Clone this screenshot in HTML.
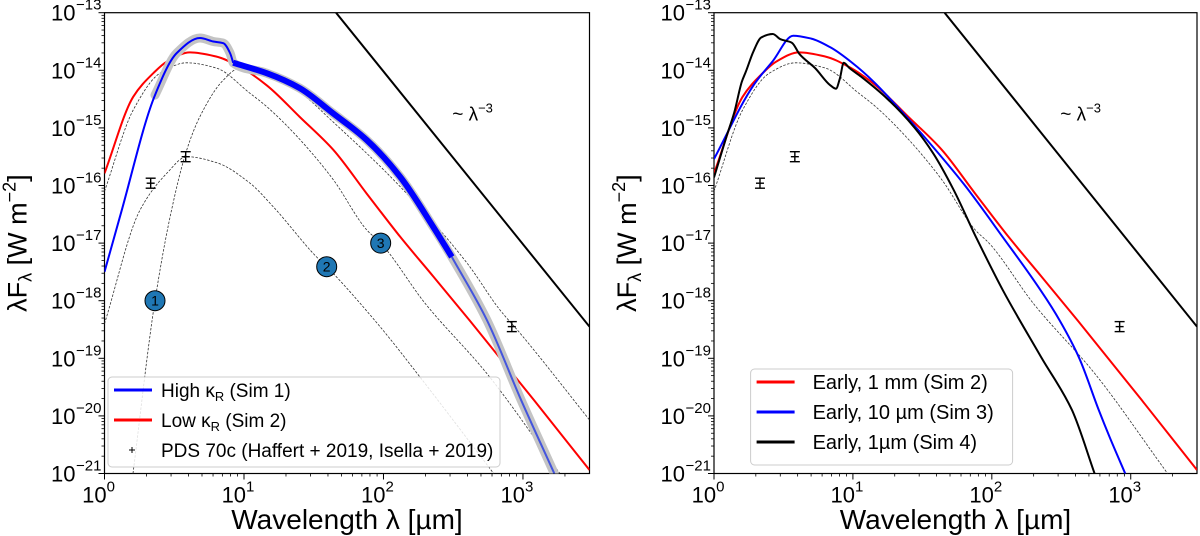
<!DOCTYPE html>
<html><head><meta charset="utf-8"><style>
html,body{margin:0;padding:0;background:#fff;}
svg{display:block;font-family:"Liberation Sans","DejaVu Sans",sans-serif;}
</style></head><body>
<svg id="chart" width="1200" height="536" viewBox="0 0 1200 536" xmlns="http://www.w3.org/2000/svg"></svg>
<script>
// ---- data (log10 wavelength [um], log10 flux [W m^-2]) ----
const redLogLam  = [0,0.206,0.35,0.446,0.613,0.80,0.97,1.163,1.40,1.64,1.88,2.12,2.357,2.62,3.08,3.477];
const redLogF    = [-15.79,-14.46,-14.05,-13.85,-13.69,-13.76,-13.94,-14.26,-14.81,-15.38,-16.14,-16.89,-17.58,-18.35,-19.73,-20.94];
const sim1LogLam = [0,0.11,0.362,0.518,0.685,0.78,0.852,0.90,0.923,1.163,1.40,1.64,1.88,2.12,2.357,2.49,2.74,2.986,3.225];
const sim1LogF   = [-17.5,-16.55,-14.43,-13.70,-13.44,-13.50,-13.53,-13.70,-13.87,-14.05,-14.31,-14.75,-15.21,-15.85,-16.72,-17.24,-18.33,-19.72,-21];
const sim3LogLam = [0,0.284,0.423,0.57,0.70,0.837,1.0,1.15,1.3,1.53,1.80,2.08,2.36,2.49,2.63,2.77,2.85,2.96];
const sim3LogF   = [-15.54,-14.26,-13.84,-13.40,-13.45,-13.6,-13.88,-14.2,-14.58,-15.2,-15.98,-16.9,-17.85,-18.35,-19.0,-19.9,-20.38,-21];
const sim4LogLam = [0,0.09,0.146,0.2,0.23,0.284,0.34,0.423,0.478,0.56,0.616,0.727,0.837,0.878,0.906,0.934,0.975,1.058,1.25,1.445,1.58,1.72,1.887,2.08,2.36,2.577,2.74];
const sim4LogF   = [-15.86,-15.15,-14.73,-14.2,-14.02,-13.67,-13.43,-13.37,-13.46,-13.52,-13.72,-13.96,-14.26,-14.32,-14.14,-13.87,-13.96,-14.11,-14.5,-15.0,-15.45,-16.05,-16.9,-17.82,-19.0,-19.9,-21];
const bb1LogLam  = [0.204,0.362,0.48,0.59,0.685,0.852,0.97,1.1,1.4,1.64,2.12,2.6,2.835,2.978,3.477];
const bb1LogF    = [-21,-18.0,-16.43,-15.38,-14.8,-14.17,-13.96,-13.95,-14.38,-14.9,-16.02,-17.35,-18.16,-18.56,-20.07];
const bb2LogLam  = [0,0.254,0.446,0.59,0.80,1.043,1.21,1.52,1.593,1.975,2.26,2.79];
const bb2LogF    = [-18.4,-16.43,-15.79,-15.5,-15.6,-15.96,-16.37,-17.24,-17.41,-18.45,-19.32,-21];
const bb3LogLam  = [0,0.206,0.398,0.59,0.80,1.043,1.163,1.4,1.64,1.88,1.98,2.3,2.74,3.265];
const bb3LogF    = [-16.1,-14.69,-14.05,-13.87,-13.96,-14.4,-14.63,-15.2,-15.9,-16.77,-17.0,-18.05,-19.26,-21];
const obsLogLam  = [0.331,0.582,2.92];
const obsLogF    = [-15.96,-15.5,-18.45];
const circleLabels = ["1","2","3"];
const circleLogLam = [0.362,1.593,1.98];
const circleLogF   = [-18.0,-17.41,-17.0];
const slopeAnchorLogLam = 1.66, slopeAnchorLogF = -13;
const yTickExp = [-13,-14,-15,-16,-17,-18,-19,-20,-21];
const xTickExp = [0,1,2,3];

const NS="http://www.w3.org/2000/svg";
const svg=document.getElementById('chart');
function el(tag,attrs,parent){const e=document.createElementNS(NS,tag);for(const k in attrs)e.setAttribute(k,attrs[k]);(parent||svg).appendChild(e);return e;}

const Y0=12.7, DEC=57.6, XMAX=3.477;
function makePanel(x0,w){
  const g=el('g',{});
  const sx=l=>x0+l/XMAX*w, sy=f=>Y0+(-13-f)*DEC;
  return {g,sx,sy,x0,w};
}
function smoothPath(P,lx,lf){
  const pts=lx.map((l,i)=>[P.sx(l),P.sy(lf[i])]);
  const n=pts.length;
  const sec=[];for(let i=0;i<n-1;i++)sec.push((pts[i+1][1]-pts[i][1])/(pts[i+1][0]-pts[i][0]));
  const m=pts.map((p,i)=>{
    if(i===0)return sec[0];
    if(i===n-1)return sec[n-2];
    const s0=sec[i-1],s1=sec[i];
    if(s0*s1<=0)return 0;
    const w0=pts[i][0]-pts[i-1][0], w1=pts[i+1][0]-pts[i][0];
    return 3*(w0+w1)/((2*w1+w0)/s0+(w1+2*w0)/s1);
  });
  let d='M'+pts[0][0].toFixed(1)+','+pts[0][1].toFixed(1);
  for(let i=0;i<n-1;i++){
    const p1=pts[i],p2=pts[i+1],dx=(p2[0]-p1[0])/3;
    const c1=[p1[0]+dx,p1[1]+m[i]*dx], c2=[p2[0]-dx,p2[1]-m[i+1]*dx];
    d+='C'+c1.map(v=>v.toFixed(1))+' '+c2.map(v=>v.toFixed(1))+' '+p2.map(v=>v.toFixed(1));
  }
  return d;
}
function sub(lx,lf,a,b){return [lx.slice(a,b),lf.slice(a,b)];}

function axes(P,side){
  const g=P.g, bottom=Y0+8*DEC;
  const cid='clip'+side;
  const cp=el('clipPath',{id:cid},g);
  el('rect',{x:P.x0,y:Y0,width:P.w,height:8*DEC},cp);
  yTickExp.forEach(e=>{
    const y=P.sy(e);
    const t=el('line',{x1:P.x0-6,x2:P.x0,y1:y,y2:y,stroke:'#000','stroke-width':1},g);
    
    
    const tx=el('text',{x:P.x0-29,y:y+8,'font-size':22,'text-anchor':'end',fill:'#000'},g);
    
    
    tx.textContent='10';
    const sp=el('tspan',{x:P.x0-3,dy:-11,'font-size':15,'text-anchor':'end'},tx);
    sp.textContent='\u2212'+Math.abs(e);
    if(e>-21){for(let m=2;m<10;m++){const yy=P.sy(e-1+Math.log10(m));el('line',{x1:P.x0-3,x2:P.x0,y1:yy,y2:yy,stroke:'#000','stroke-width':0.8},g);}}
  });
  xTickExp.forEach(e=>{
    const x=P.sx(e);
    const t=el('line',{x1:x,x2:x,y1:bottom,y2:bottom+6,stroke:'#000','stroke-width':1},g);
    
    
    const tx=el('text',{x:x-6,y:bottom+29,'font-size':22,'text-anchor':'middle',fill:'#000'},g);
    
    
    tx.textContent='10';
    const sp=el('tspan',{dy:-11,'font-size':15},tx);
    sp.textContent=String(e);
    for(let m=2;m<10;m++){const l=e+Math.log10(m);if(l<=XMAX){const xx=P.sx(l);el('line',{x1:xx,x2:xx,y1:bottom,y2:bottom+3,stroke:'#000','stroke-width':0.8},g);}}
  });
  const fr=el('rect',{x:P.x0,y:Y0,width:P.w,height:8*DEC,fill:'none',stroke:'#000','stroke-width':1.2},g);
  
  
  const xl=el('text',{x:P.x0+P.w/2,y:529,'font-size':28,'text-anchor':'middle',fill:'#000'},g);
  
  
  xl.textContent='Wavelength  \u03bb [\u00b5m]';
  const cx=P.x0-78, cy=Y0+4*DEC;
  const yl=el('text',{x:cx,y:cy,'font-size':27,'text-anchor':'middle',fill:'#000',transform:`rotate(-90 ${cx} ${cy})`},g);
  
  
  yl.textContent='\u03bbF';
  const s1=el('tspan',{dy:5,'font-size':18},yl);s1.textContent='\u03bb';
  const s2=el('tspan',{dy:-5},yl);s2.textContent='  [W m';
  const s3=el('tspan',{dy:-11,'font-size':18},yl);s3.textContent='\u22122';
  const s4=el('tspan',{dy:11},yl);s4.textContent=']';
  return cid;
}
function curve(P,cid,lx,lf,style,name){
  const p=el('path',Object.assign({d:smoothPath(P,lx,lf),fill:'none','clip-path':`url(#${cid})`,'stroke-linejoin':'round'},style),P.g);
  
  
  return p;
}
const dashStyle={stroke:'#333','stroke-width':0.8,'stroke-dasharray':'2.5,1.5'};
function slopeLine(P,cid){
  const x1=P.sx(slopeAnchorLogLam), y1=P.sy(slopeAnchorLogF);
  const l2=XMAX, f2=slopeAnchorLogF-3*(l2-slopeAnchorLogLam);
  const ln=el('line',{x1,y1,x2:P.sx(l2),y2:P.sy(f2),stroke:'#000','stroke-width':2,'clip-path':`url(#${cid})`},P.g);
  
  
  const t=el('text',{x:P.sx(2.5)-1,y:P.sy(-14.85)+1,'font-size':19,fill:'#000'},P.g);
  
  
  t.textContent='~ \u03bb';
  const s=el('tspan',{dy:-8,'font-size':13},t);s.textContent='\u22123';
}
function obs(P){
  obsLogLam.forEach((l,i)=>{
    const x=P.sx(l),y=P.sy(obsLogF[i]);
    const g=el('g',{stroke:'#000','stroke-width':1.4},P.g);
    
    
    el('line',{x1:x,x2:x,y1:y-5,y2:y+5},g);
    el('line',{x1:x-5,x2:x+5,y1:y-5,y2:y-5},g);
    el('line',{x1:x-5,x2:x+5,y1:y+5,y2:y+5},g);
    el('line',{x1:x-4,x2:x+4,y1:y,y2:y},g);
  });
}
function legend(P,x,y,w,h,entries,name,fs,tx,step){
  const g=el('g',{},P.g);
  
  
  el('rect',{x,y,width:w,height:h,rx:4,fill:'#fff','fill-opacity':0.85,stroke:'#ccc'},g);
  entries.forEach((e,i)=>{
    const yy=y+13+i*step;
    const it=el('g',{},g);
    
    
    if(e.color){el('line',{x1:x+6,x2:x+44,y1:yy,y2:yy,stroke:e.color,'stroke-width':3},it);}
    else{el('line',{x1:x+21,x2:x+27,y1:yy,y2:yy,stroke:'#000','stroke-width':1},it);el('line',{x1:x+24,x2:x+24,y1:yy-3,y2:yy+3,stroke:'#000','stroke-width':1},it);}
    const t=el('text',{x:x+tx,y:yy+7,'font-size':fs,fill:'#000'},it);
    e.parts.forEach(p=>{const s=el('tspan',p.sub?{'font-size':fs*0.68,dy:4}:(p.back?{dy:-4}:{}),t);s.textContent=p.t;});
  });
}

// ---- left panel ----
const L=makePanel(104.5,485);
const cl=axes(L,'left');
curve(L,cl,bb1LogLam,bb1LogF,dashStyle,'blackbody-1');
curve(L,cl,bb2LogLam,bb2LogF,dashStyle,'blackbody-2');
curve(L,cl,bb3LogLam,bb3LogF,dashStyle,'blackbody-3');
curve(L,cl,redLogLam,redLogF,{stroke:'#ff0000','stroke-width':2},'sim2-low-kappa-line');
let [gx,gf]=sub(sim1LogLam,sim1LogF,2,sim1LogLam.length);
curve(L,cl,gx,gf,{stroke:'#c4c4c4','stroke-width':9,'stroke-linecap':'round'},'sim1-highlight');
[gx,gf]=sub(sim1LogLam,sim1LogF,0,9);
curve(L,cl,gx,gf,{stroke:'#0000ff','stroke-width':2},'sim1-high-kappa-line-start');
[gx,gf]=sub(sim1LogLam,sim1LogF,8,16);
curve(L,cl,gx,gf,{stroke:'#0000ff','stroke-width':6},'sim1-high-kappa-line-thick');
[gx,gf]=sub(sim1LogLam,sim1LogF,15,sim1LogLam.length);
curve(L,cl,gx,gf,{stroke:'#4455dd','stroke-width':2},'sim1-high-kappa-line-tail');
slopeLine(L,cl);
obs(L);
circleLabels.forEach((c,i)=>{
  const g=el('g',{},L.g);
  
  
  const x=L.sx(circleLogLam[i]),y=L.sy(circleLogF[i]);
  el('circle',{cx:x,cy:y,r:10,fill:'#1f77b4',stroke:'#000','stroke-width':1},g);
  const t=el('text',{x,y:y+5,'font-size':14,'text-anchor':'middle',fill:'#000'},g);t.textContent=c;
});
legend(L,108,377,392,90,[
  {color:'#0000ff',parts:[{t:'High '},{t:'\u03ba'},{t:'R',sub:true},{t:' (Sim 1)',back:true}]},
  {color:'#ff0000',parts:[{t:'Low '},{t:'\u03ba'},{t:'R',sub:true},{t:' (Sim 2)',back:true}]},
  {color:null,parts:[{t:'PDS 70c (Haffert + 2019, Isella + 2019)'}]}
],'legend-left',19,53,30);

// ---- right panel ----
const R=makePanel(714,483);
const cr=axes(R,'right');
curve(R,cr,bb3LogLam,bb3LogF,dashStyle,'blackbody-3');
curve(R,cr,redLogLam,redLogF,{stroke:'#ff0000','stroke-width':2},'sim2-1mm-line');
curve(R,cr,sim3LogLam,sim3LogF,{stroke:'#0000ff','stroke-width':2},'sim3-10um-line');
curve(R,cr,sim4LogLam,sim4LogF,{stroke:'#000','stroke-width':2},'sim4-1um-line');
slopeLine(R,cr);
obs(R);
legend(R,750.6,369,262,96,[
  {color:'#ff0000',parts:[{t:'Early,  1 mm (Sim 2)'}]},
  {color:'#0000ff',parts:[{t:'Early,  10 \u00b5m (Sim 3)'}]},
  {color:'#000',parts:[{t:'Early,  1\u00b5m (Sim 4)'}]}
],'legend-right',20,62,30);
</script>
</body></html>
